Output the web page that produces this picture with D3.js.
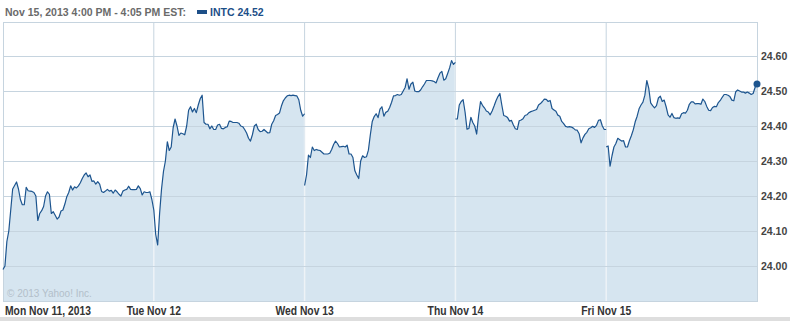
<!DOCTYPE html>
<html>
<head>
<meta charset="utf-8">
<script src="https://cdn.jsdelivr.net/npm/d3@7"></script>
<style>
  html, body { margin: 0; padding: 0; background: #fff; }
  svg { display: block; }
</style>
</head>
<body>
<svg id="chart" width="807" height="321"></svg>
<script>
// INTC, 5 days, 5-minute closes from 9:30 to 16:00
const dayLabels = ['Mon Nov 11, 2013', 'Tue Nov 12', 'Wed Nov 13', 'Thu Nov 14', 'Fri Nov 15'];
const yTicks = [24.00, 24.10, 24.20, 24.30, 24.40, 24.50, 24.60];
const stepMinutes = 5;
const dayMinutes = 390;

const mon = [23.99, 24.00, 24.07, 24.10, 24.16, 24.22, 24.23, 24.24, 24.22, 24.19,
  24.175, 24.175, 24.225, 24.215, 24.214, 24.213, 24.21, 24.20, 24.13, 24.15,
  24.158, 24.17, 24.20, 24.212, 24.205, 24.15, 24.155, 24.145, 24.134, 24.14,
  24.157, 24.16, 24.177, 24.198, 24.21, 24.229, 24.217, 24.226, 24.223, 24.229,
  24.238, 24.25, 24.26, 24.266, 24.255, 24.26, 24.242, 24.243, 24.234, 24.241,
  24.234, 24.213, 24.21, 24.214, 24.219, 24.214, 24.216, 24.208, 24.217, 24.212,
  24.205, 24.20, 24.214, 24.217, 24.219, 24.228, 24.219, 24.218, 24.218, 24.219,
  24.229, 24.221, 24.203, 24.212, 24.21, 24.21, 24.212, 24.19, 24.16];
const tue = [24.16, 24.09, 24.06, 24.15, 24.22, 24.27, 24.30, 24.355, 24.33, 24.34,
  24.395, 24.42, 24.40, 24.373, 24.38, 24.378, 24.375, 24.40, 24.445, 24.455,
  24.44, 24.45, 24.438, 24.46, 24.478, 24.488, 24.41, 24.405, 24.405, 24.392,
  24.40, 24.39, 24.39, 24.403, 24.405, 24.393, 24.392, 24.396, 24.398, 24.414,
  24.413, 24.41, 24.41, 24.41, 24.408, 24.40, 24.398, 24.39, 24.38, 24.365,
  24.357, 24.375, 24.40, 24.405, 24.39, 24.384, 24.385, 24.39, 24.385, 24.38,
  24.381, 24.405, 24.415, 24.43, 24.433, 24.437, 24.457, 24.472, 24.48, 24.486,
  24.488, 24.487, 24.488, 24.487, 24.486, 24.475, 24.445, 24.428, 24.435];
const wed = [24.23, 24.26, 24.317, 24.31, 24.34, 24.33, 24.333, 24.331, 24.33, 24.325,
  24.32, 24.32, 24.32, 24.322, 24.333, 24.347, 24.357, 24.35, 24.34, 24.341,
  24.342, 24.34, 24.345, 24.32, 24.32, 24.31, 24.272, 24.26, 24.25, 24.30,
  24.315, 24.31, 24.312, 24.331, 24.375, 24.413, 24.427, 24.435, 24.424, 24.448,
  24.455, 24.428, 24.439, 24.442, 24.453, 24.468, 24.486, 24.487, 24.49, 24.488,
  24.49, 24.50, 24.51, 24.535, 24.505, 24.52, 24.525, 24.50, 24.498, 24.498,
  24.503, 24.512, 24.52, 24.53, 24.53, 24.53, 24.529, 24.527, 24.523, 24.538,
  24.551, 24.556, 24.531, 24.535, 24.55, 24.566, 24.587, 24.576, 24.582];
const thu = [24.42, 24.42, 24.46, 24.47, 24.475, 24.44, 24.391, 24.393, 24.425, 24.41,
  24.40, 24.377, 24.43, 24.47, 24.459, 24.452, 24.443, 24.44, 24.432, 24.443,
  24.457, 24.472, 24.484, 24.493, 24.46, 24.43, 24.428, 24.424, 24.414, 24.416,
  24.403, 24.392, 24.39, 24.415, 24.417, 24.421, 24.43, 24.432, 24.438, 24.441,
  24.443, 24.445, 24.447, 24.46, 24.464, 24.47, 24.477, 24.476, 24.47, 24.473,
  24.45, 24.446, 24.442, 24.431, 24.428, 24.413, 24.407, 24.399, 24.397, 24.398,
  24.397, 24.394, 24.389, 24.388, 24.378, 24.352, 24.366, 24.376, 24.382, 24.392,
  24.395, 24.399, 24.396, 24.402, 24.416, 24.418, 24.40, 24.39, 24.39];
const fri = [24.34, 24.343, 24.285, 24.315, 24.34, 24.35, 24.365, 24.361, 24.357, 24.358,
  24.34, 24.34, 24.358, 24.372, 24.389, 24.412, 24.428, 24.449, 24.46, 24.468,
  24.488, 24.53, 24.508, 24.466, 24.458, 24.452, 24.458, 24.48, 24.485, 24.47,
  24.474, 24.455, 24.432, 24.425, 24.436, 24.424, 24.422, 24.423, 24.422, 24.435,
  24.438, 24.437, 24.445, 24.462, 24.469, 24.469, 24.463, 24.464, 24.464, 24.462,
  24.477, 24.47, 24.456, 24.445, 24.444, 24.453, 24.456, 24.455, 24.467, 24.473,
  24.482, 24.49, 24.49, 24.488, 24.484, 24.474, 24.472, 24.498, 24.503, 24.50,
  24.497, 24.497, 24.494, 24.497, 24.494, 24.49, 24.493, 24.51, 24.52];

const days = [mon, tue, wed, thu, fri];

const lineColor = '#1d558f';
const fillColor = '#d6e5f0';
const gridColor = '#c6d4df';

const svg = d3.select('#chart');
const plot = { left: 3, right: 757, top: 22, bottom: 301 };

const x = d3.scaleLinear()
  .domain([0, days.length * dayMinutes])
  .range([plot.left, plot.right]);

const y = d3.scaleLinear()
  .domain([24.0, 24.6])
  .range([266, 56]);

const series = days.map((vals, d) => vals.map((v, k) => ({ t: d * dayMinutes + k * stepMinutes, v })));

// header
svg.append('text')
  .attr('x', 5).attr('y', 16)
  .attr('font-family', 'Liberation Sans, Arial, sans-serif')
  .attr('font-size', 10.5).attr('font-weight', 'bold')
  .attr('fill', '#6a6a6a')
  .text('Nov 15, 2013 4:00 PM - 4:05 PM EST:');
svg.append('rect')
  .attr('x', 197).attr('y', 10).attr('width', 10).attr('height', 4)
  .attr('fill', '#1d4f88');
svg.append('text')
  .attr('x', 210).attr('y', 16)
  .attr('font-family', 'Liberation Sans, Arial, sans-serif')
  .attr('font-size', 10.5).attr('font-weight', 'bold')
  .attr('fill', '#1d4f88')
  .text('INTC ' + fri[fri.length - 1].toFixed(2));

// day separators underneath
const seps = d3.range(1, days.length).map((d) => x(d * dayMinutes));
svg.append('g').selectAll('line').data(seps).enter().append('line')
  .attr('x1', (d) => d).attr('x2', (d) => d)
  .attr('y1', plot.top).attr('y2', plot.bottom)
  .attr('stroke', gridColor).attr('stroke-width', 1);

const area = d3.area()
  .x((d) => x(d.t))
  .y0(plot.bottom)
  .y1((d) => y(d.v));

const line = d3.line()
  .x((d) => x(d.t))
  .y((d) => y(d.v));

svg.append('defs').append('clipPath').attr('id', 'areaClip')
  .selectAll('path').data(series).enter().append('path')
  .attr('d', area);

svg.append('g').selectAll('path').data(series).enter().append('path')
  .attr('d', area)
  .attr('fill', fillColor);

// separators shown lighter inside the filled part
svg.append('g').attr('clip-path', 'url(#areaClip)')
  .selectAll('line').data(seps).enter().append('line')
  .attr('x1', (d) => d).attr('x2', (d) => d)
  .attr('y1', plot.top).attr('y2', plot.bottom)
  .attr('stroke', '#eef3f7').attr('stroke-width', 1.5);

// horizontal grid
svg.append('g').selectAll('line').data(yTicks).enter().append('line')
  .attr('x1', plot.left).attr('x2', plot.right)
  .attr('y1', (d) => Math.round(y(d)) + 0.5).attr('y2', (d) => Math.round(y(d)) + 0.5)
  .attr('stroke', gridColor).attr('stroke-width', 1);

// plot border
svg.append('rect')
  .attr('x', plot.left + 0.5).attr('y', plot.top + 0.5)
  .attr('width', plot.right - plot.left).attr('height', plot.bottom - plot.top)
  .attr('fill', 'none').attr('stroke', gridColor);

svg.append('text')
  .attr('x', 7).attr('y', 297)
  .attr('font-family', 'Liberation Sans, Arial, sans-serif')
  .attr('font-size', 10)
  .attr('fill', '#b3bfca')
  .text('\u00a9 2013 Yahoo! Inc.');

svg.append('g').selectAll('path').data(series).enter().append('path')
  .attr('d', line)
  .attr('fill', 'none')
  .attr('stroke', lineColor)
  .attr('stroke-width', 1.2)
  .attr('stroke-linejoin', 'round');

const last = series[series.length - 1][series[series.length - 1].length - 1];
svg.append('circle')
  .attr('cx', x(last.t)).attr('cy', y(last.v)).attr('r', 3.5)
  .attr('fill', lineColor);

// y labels
svg.append('g').selectAll('text').data(yTicks).enter().append('text')
  .attr('x', 761).attr('y', (d) => y(d) + 3.5)
  .attr('font-family', 'Liberation Sans, Arial, sans-serif')
  .attr('font-size', 10.5).attr('font-weight', 'bold')
  .attr('fill', '#444')
  .text((d) => d.toFixed(2));

// x labels, condensed look
svg.append('g').selectAll('text').data(dayLabels).enter().append('text')
  .attr('transform', (d, i) => `translate(${i === 0 ? 5 : x(i * dayMinutes)},315) scale(0.86,1)`)
  .attr('text-anchor', (d, i) => (i === 0 ? 'start' : 'middle'))
  .attr('font-family', 'Liberation Sans, Arial, sans-serif')
  .attr('font-size', 12).attr('font-weight', 'bold')
  .attr('fill', '#333')
  .text((d) => d);

svg.append('rect')
  .attr('x', 0).attr('y', 317).attr('width', 790).attr('height', 4)
  .attr('fill', '#dedede');
</script>
</body>
</html>
